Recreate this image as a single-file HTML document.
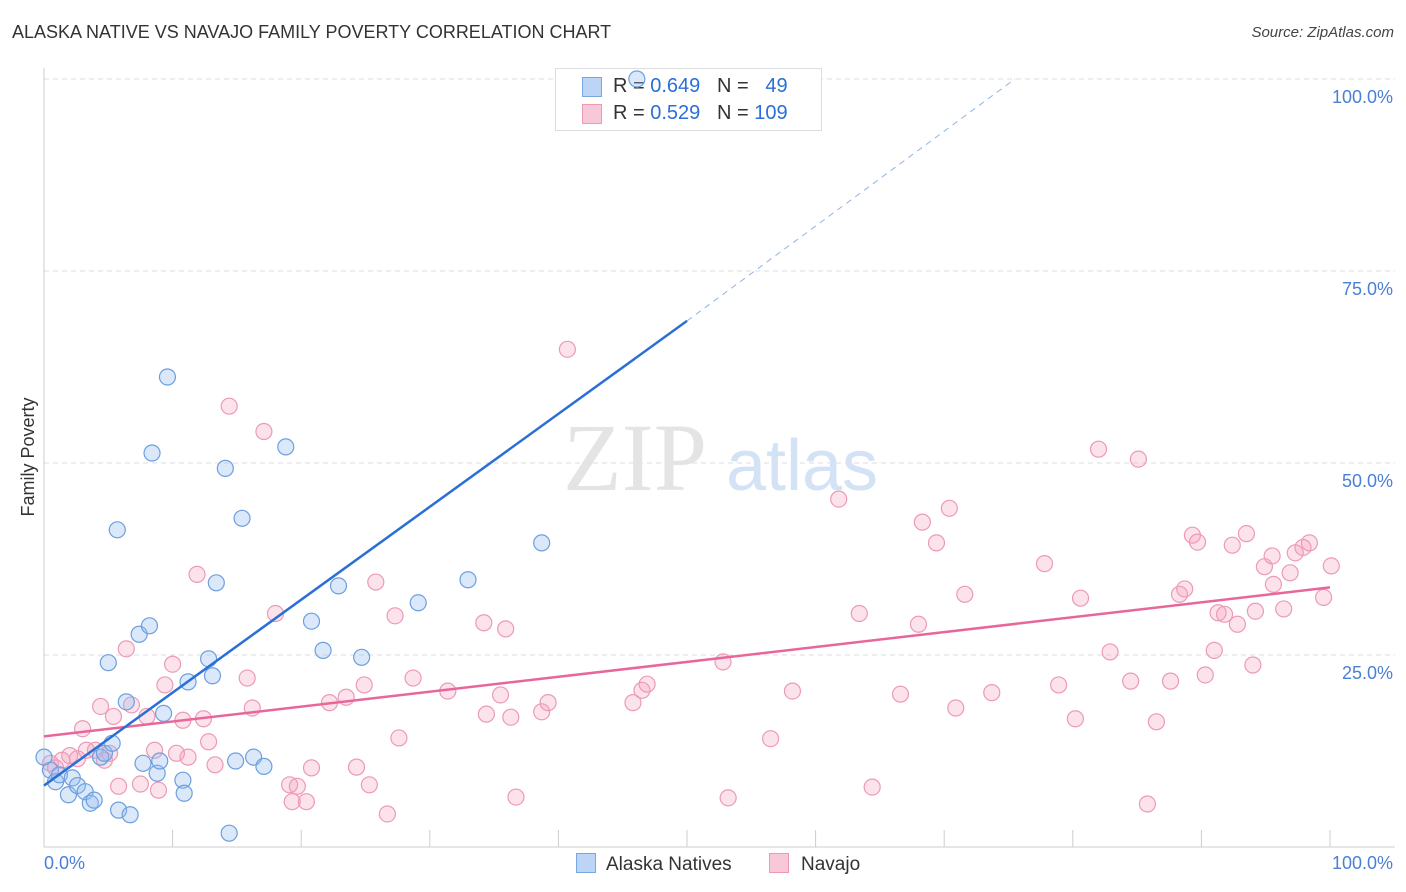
<!DOCTYPE html>
<html><head><meta charset="utf-8">
<style>
body{margin:0;background:#fff;font-family:"Liberation Sans",sans-serif;}
#wrap{position:relative;width:1406px;height:892px;overflow:hidden;}
.t{position:absolute;white-space:nowrap;}
svg{position:absolute;left:0;top:0;}
</style></head>
<body>
<div id="wrap">
<div class="t" style="left:12px;top:22px;font-size:18px;color:#333;">ALASKA NATIVE VS NAVAJO FAMILY POVERTY CORRELATION CHART</div>
<div class="t" style="right:12px;top:24px;font-size:15px;color:#444;font-style:italic;">Source: ZipAtlas.com</div>
<svg id="svg" width="1406" height="892"></svg>
<div class="t" style="left:555px;top:68px;width:265px;height:61px;border:1px solid #ddd;background:#fff;font-size:20px;color:#333;">
 <div style="position:absolute;left:26px;top:8px;width:18px;height:18px;background:#bcd4f5;border:1px solid #7aa6e3;"></div>
 <div class="t" style="left:57px;top:6px;">R = <span style="color:#2a6fd6">0.649</span>&nbsp;&nbsp;&nbsp;N = &nbsp;&nbsp;<span style="color:#2a6fd6">49</span></div>
 <div style="position:absolute;left:26px;top:35px;width:18px;height:18px;background:#f9c8d8;border:1px solid #ec9ab6;"></div>
 <div class="t" style="left:57px;top:33px;">R = <span style="color:#2a6fd6">0.529</span>&nbsp;&nbsp;&nbsp;N = <span style="color:#2a6fd6">109</span></div>
</div>
<svg id="svg2" width="1406" height="892"></svg>
</div>
<script>
const yTicks=[25,50,75,100];
const yTickLabels=["25.0%","50.0%","75.0%","100.0%"];
const xTickLabels=["0.0%","100.0%"];
const blueX=[0,0.5,0.9,1.2,1.9,2.2,2.6,3.2,3.6,3.9,4.4,4.7,5.3,5.8,6.7,5,5.7,6.4,7.4,8.2,8.4,7.7,8.8,9,9.3,9.6,10.8,10.9,11.2,12.8,13.1,13.4,14.1,14.4,14.9,15.4,16.3,17.1,18.8,20.8,21.7,22.9,24.7,29.1,32.969,38.7,46.1];
const blueY=[11.7,10,8.5,9.4,6.8,9,8,7.2,5.7,6.1,11.7,12.2,13.5,4.8,4.2,24,41.3,18.9,27.7,28.8,51.3,10.9,9.6,11.2,17.4,61.2,8.7,7,21.5,24.5,22.3,34.4,49.3,1.8,11.2,42.8,11.7,10.5,52.1,29.4,25.6,34,24.7,31.8,34.8,39.6,100];
const pinkX=[0.5,0.9,1.4,2,2.6,3,3.3,4,4.4,4.7,5.1,5.4,5.8,6.4,6.8,7.5,8,8.6,8.9,9.4,10,10.3,10.8,11.2,11.9,12.4,12.8,13.3,14.4,15.8,16.2,17.1,18,19.1,19.3,19.7,20.4,20.8,22.2,23.5,24.3,24.9,25.3,25.8,26.7,27.3,27.6,28.7,31.4,34.2,34.4,35.5,35.9,36.3,36.7,38.7,39.2,40.7,45.8,46.5,46.9,52.8,53.2,56.5,58.2,61.8,63.4,64.4,66.6,68,68.3,69.4,70.4,70.9,71.6,73.7,77.8,78.9,80.2,80.6,82,82.9,84.5,85.1,86.5,85.8,87.6,88.3,88.7,89.3,89.7,90.3,91,91.3,91.8,92.4,92.8,93.5,94,94.2,94.9,95.6,95.5,96.4,96.9,97.3,97.9,98.4,99.5,100.1];
const pinkY=[10.9,10.3,11.3,11.9,11.5,15.4,12.6,12.6,18.3,11.3,12.2,17,7.9,25.8,18.5,8.2,17,12.6,7.4,21.1,23.8,12.2,16.5,11.7,35.5,16.7,13.7,10.7,57.4,22,18.1,54.1,30.4,8.1,5.9,7.9,5.9,10.3,18.8,19.5,10.4,21.1,8.1,34.5,4.3,30.1,14.2,22,20.3,29.2,17.3,19.8,28.4,16.9,6.5,17.6,18.8,64.8,18.8,20.4,21.2,24.1,6.4,14.1,20.3,45.3,30.4,7.8,19.9,29,42.3,39.6,44.1,18.1,32.9,20.1,36.9,21.1,16.7,32.4,51.8,25.4,21.6,50.5,16.3,5.6,21.6,32.9,33.6,40.6,39.7,22.4,25.6,30.5,30.3,39.3,29,40.8,23.7,30.7,36.5,34.2,37.9,31,35.7,38.3,39,39.6,32.5,36.6,37.1];
const X=v=>44+v*12.86, Y=v=>847-v*7.68;
const svg=document.getElementById('svg'),svg2=document.getElementById('svg2'),NS='http://www.w3.org/2000/svg';
function mk(tag,attrs,name,parent){const e=document.createElementNS(NS,tag);for(const k in attrs)e.setAttribute(k,attrs[k]);


(parent||svg).appendChild(e);return e;}
yTicks.forEach((t,i)=>{mk('line',{x1:44,x2:1395,y1:Y(t),y2:Y(t),stroke:'#ddd','stroke-dasharray':'5,4'},'gridline');
const tx=mk('text',{x:1393,y:Y(t)+24,'text-anchor':'end','font-size':18,fill:'#4a7fd6'},'y-tick-label');tx.textContent=yTickLabels[i];});
mk('line',{x1:44,x2:44,y1:68,y2:847,stroke:'#ccc'},'y-axis');
mk('line',{x1:44,x2:1395,y1:847,y2:847,stroke:'#ccc'},'x-axis');
for(let i=1;i<=10;i++)mk('line',{x1:X(i*10),x2:X(i*10),y1:830,y2:847,stroke:'#ccc'},'x-tick');
let t1=mk('text',{x:44,y:869,'font-size':18,fill:'#4a7fd6'},'x-tick-label');t1.textContent=xTickLabels[0];
let t2=mk('text',{x:1393,y:869,'font-size':18,fill:'#4a7fd6','text-anchor':'end'},'x-tick-label');t2.textContent=xTickLabels[1];
let yt=mk('text',{x:34,y:457,'font-size':18,fill:'#333','text-anchor':'middle',transform:'rotate(-90 34 457)'},'y-axis-title');yt.textContent='Family Poverty';
let w1=mk('text',{x:635,y:490,'font-size':96,fill:'#e4e4e4','font-family':'Liberation Serif','text-anchor':'middle'},'watermark');w1.textContent='ZIP';
let w2=mk('text',{x:802,y:490,'font-size':72,fill:'#d3e2f5','text-anchor':'middle'},'watermark');w2.textContent='atlas';
mk('line',{x1:X(50),y1:Y(68.5),x2:X(75.5),y2:Y(100),stroke:'#8fb3e6','stroke-width':1,'stroke-dasharray':'6,5'},'alaska-trend-extension');
pinkX.forEach((x,i)=>mk('circle',{cx:X(x),cy:Y(pinkY[i]),r:8,fill:'rgba(244,160,190,0.3)',stroke:'#ec9ab6','stroke-width':1.2},'navajo-point',svg2));
blueX.forEach((x,i)=>mk('circle',{cx:X(x),cy:Y(blueY[i]),r:8,fill:'rgba(150,190,240,0.35)',stroke:'#6c9fe0','stroke-width':1.2},'alaska-point',svg2));
mk('line',{x1:X(0),y1:Y(14.4),x2:X(100),y2:Y(33.8),stroke:'#e8679a','stroke-width':2.5},'navajo-trendline',svg2);
mk('line',{x1:X(0),y1:Y(8),x2:X(50),y2:Y(68.5),stroke:'#2a6fd6','stroke-width':2.5},'alaska-trendline',svg2);
</script>
<div class="t" style="left:576px;top:853px;font-size:19px;color:#333;"><span style="display:inline-block;width:18px;height:18px;background:#bcd4f5;border:1px solid #7aa6e3;vertical-align:-3px;margin-right:10px"></span>Alaska Natives</div>
<div class="t" style="left:769px;top:853px;font-size:19px;color:#333;"><span style="display:inline-block;width:18px;height:18px;background:#f9c8d8;border:1px solid #ec9ab6;vertical-align:-3px;margin-right:12px"></span>Navajo</div>
</body></html>
